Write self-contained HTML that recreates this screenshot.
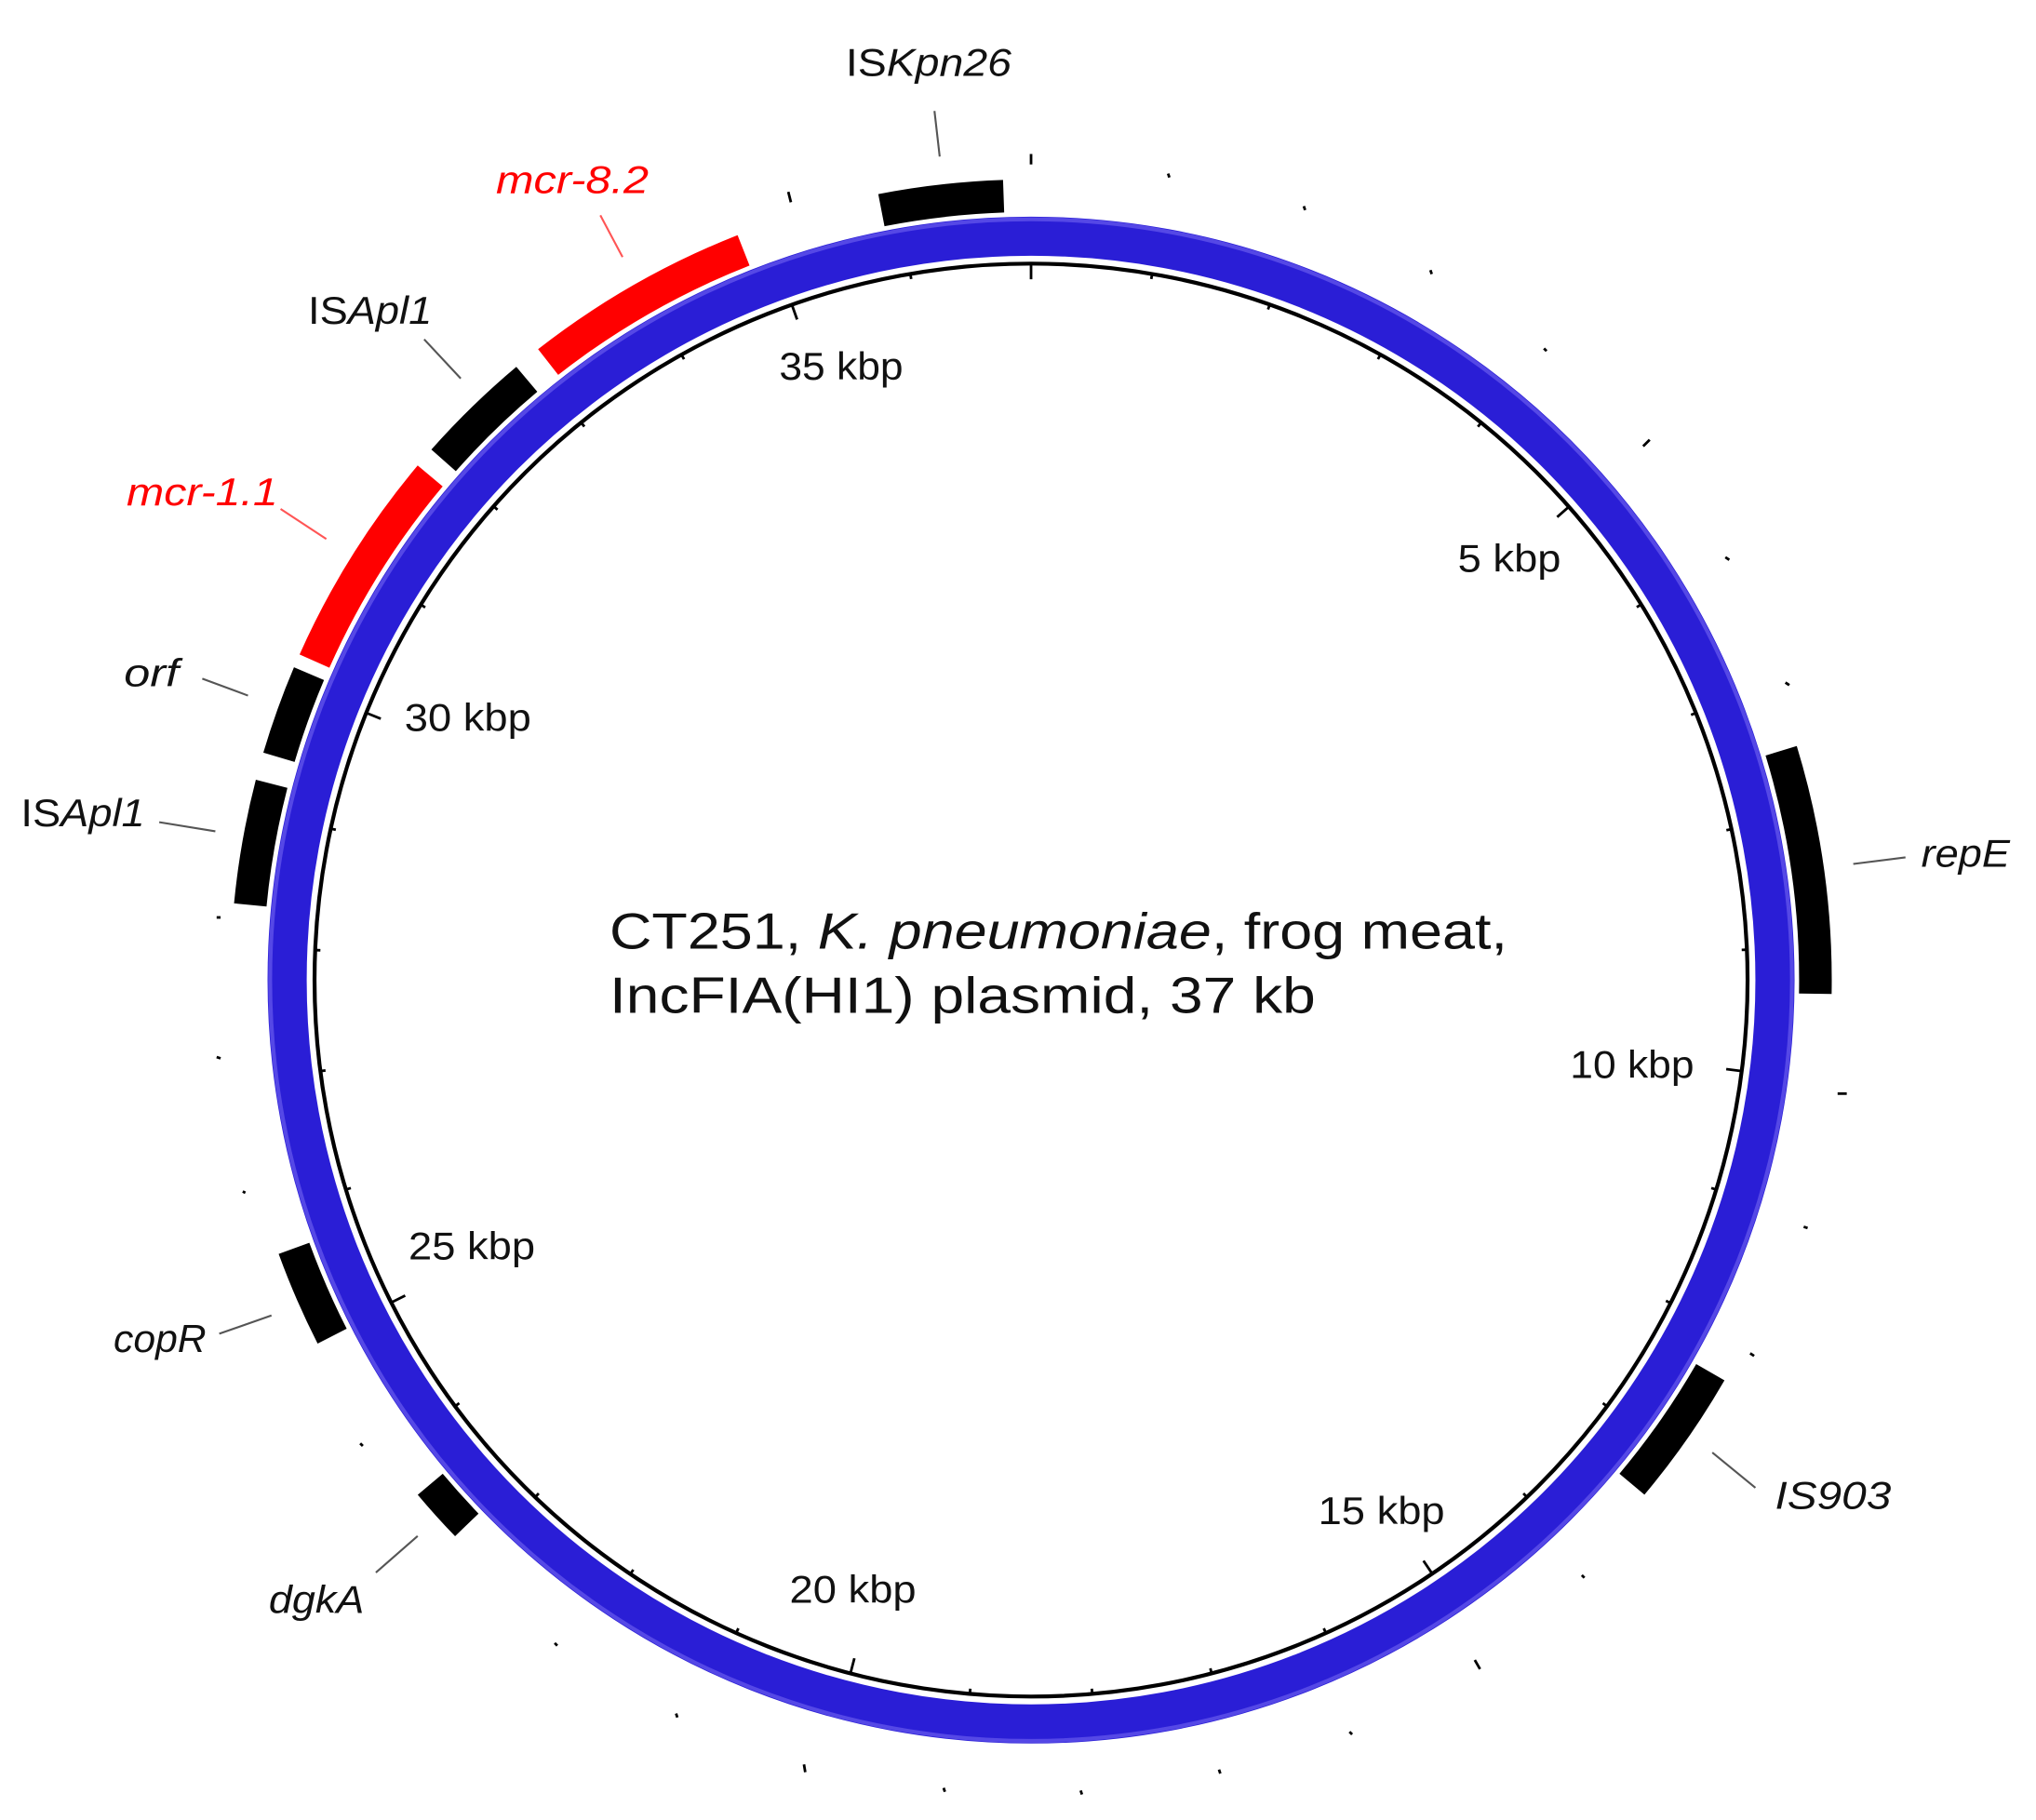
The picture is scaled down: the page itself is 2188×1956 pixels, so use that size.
<!DOCTYPE html>
<html><head><meta charset="utf-8"><style>
html,body{margin:0;padding:0;background:#fff;width:2188px;height:1956px;overflow:hidden;}
svg{display:block;}
text{font-family:"Liberation Sans","DejaVu Sans",sans-serif;}
</style></head><body>
<svg width="2188" height="1956" viewBox="0 0 1560 1394.6" preserveAspectRatio="none" xmlns="http://www.w3.org/2000/svg">
<circle cx="790" cy="751" r="570" fill="none" stroke="#2a1ed6" stroke-width="30"/>
<circle cx="790" cy="751" r="583" fill="none" stroke="#5548e6" stroke-width="3"/>
<circle cx="790" cy="751" r="549" fill="none" stroke="#000" stroke-width="3"/>

<g fill="none" stroke-width="25">
<circle cx="790" cy="751" r="601" pathLength="360" stroke="#000" stroke-dasharray="9 360" transform="rotate(-101 790 751)"/>
<circle cx="790" cy="751" r="601" pathLength="360" stroke="#f00" stroke-dasharray="16.5 360" transform="rotate(-128 790 751)"/>
<circle cx="790" cy="751" r="601" pathLength="360" stroke="#000" stroke-dasharray="8.5 360" transform="rotate(-138.5 790 751)"/>
<circle cx="790" cy="751" r="601" pathLength="360" stroke="#f00" stroke-dasharray="16 360" transform="rotate(-156 790 751)"/>
<circle cx="790" cy="751" r="601" pathLength="360" stroke="#000" stroke-dasharray="6.5 360" transform="rotate(-163.5 790 751)"/>
<circle cx="790" cy="751" r="601" pathLength="360" stroke="#000" stroke-dasharray="9 360" transform="rotate(-174.5 790 751)"/>
<circle cx="790" cy="751" r="601" pathLength="360" stroke="#000" stroke-dasharray="7 360" transform="rotate(-207 790 751)"/>
<circle cx="790" cy="751" r="601" pathLength="360" stroke="#000" stroke-dasharray="4 360" transform="rotate(-224 790 751)"/>
<circle cx="790" cy="751" r="601" pathLength="360" stroke="#000" stroke-dasharray="10 360" transform="rotate(30 790 751)"/>
<circle cx="790" cy="751" r="601" pathLength="360" stroke="#000" stroke-dasharray="18 360" transform="rotate(-17 790 751)"/>
</g>

<g stroke="#000" stroke-width="2">
<line x1="790" y1="202" x2="790" y2="214"/>
<line x1="790" y1="202" x2="790" y2="214" transform="rotate(48.65 790 751)"/>
<line x1="790" y1="202" x2="790" y2="214" transform="rotate(97.3 790 751)"/>
<line x1="790" y1="202" x2="790" y2="214" transform="rotate(145.95 790 751)"/>
<line x1="790" y1="202" x2="790" y2="214" transform="rotate(194.6 790 751)"/>
<line x1="790" y1="202" x2="790" y2="214" transform="rotate(243.25 790 751)"/>
<line x1="790" y1="202" x2="790" y2="214" transform="rotate(291.9 790 751)"/>
<line x1="790" y1="202" x2="790" y2="214" transform="rotate(340.5 790 751)"/>
</g>
<g stroke="#000" stroke-width="2">
<line x1="790" y1="202" x2="790" y2="206" transform="rotate(9.73 790 751)"/>
<line x1="790" y1="202" x2="790" y2="206" transform="rotate(19.46 790 751)"/>
<line x1="790" y1="202" x2="790" y2="206" transform="rotate(29.19 790 751)"/>
<line x1="790" y1="202" x2="790" y2="206" transform="rotate(38.92 790 751)"/>
<line x1="790" y1="202" x2="790" y2="206" transform="rotate(58.38 790 751)"/>
<line x1="790" y1="202" x2="790" y2="206" transform="rotate(68.11 790 751)"/>
<line x1="790" y1="202" x2="790" y2="206" transform="rotate(77.84 790 751)"/>
<line x1="790" y1="202" x2="790" y2="206" transform="rotate(87.57 790 751)"/>
<line x1="790" y1="202" x2="790" y2="206" transform="rotate(107 790 751)"/>
<line x1="790" y1="202" x2="790" y2="206" transform="rotate(116.8 790 751)"/>
<line x1="790" y1="202" x2="790" y2="206" transform="rotate(126.5 790 751)"/>
<line x1="790" y1="202" x2="790" y2="206" transform="rotate(136.2 790 751)"/>
<line x1="790" y1="202" x2="790" y2="206" transform="rotate(155.7 790 751)"/>
<line x1="790" y1="202" x2="790" y2="206" transform="rotate(165.4 790 751)"/>
<line x1="790" y1="202" x2="790" y2="206" transform="rotate(175.1 790 751)"/>
<line x1="790" y1="202" x2="790" y2="206" transform="rotate(184.9 790 751)"/>
<line x1="790" y1="202" x2="790" y2="206" transform="rotate(204.3 790 751)"/>
<line x1="790" y1="202" x2="790" y2="206" transform="rotate(214 790 751)"/>
<line x1="790" y1="202" x2="790" y2="206" transform="rotate(223.8 790 751)"/>
<line x1="790" y1="202" x2="790" y2="206" transform="rotate(233.5 790 751)"/>
<line x1="790" y1="202" x2="790" y2="206" transform="rotate(253 790 751)"/>
<line x1="790" y1="202" x2="790" y2="206" transform="rotate(262.7 790 751)"/>
<line x1="790" y1="202" x2="790" y2="206" transform="rotate(272.4 790 751)"/>
<line x1="790" y1="202" x2="790" y2="206" transform="rotate(282.2 790 751)"/>
<line x1="790" y1="202" x2="790" y2="206" transform="rotate(301.6 790 751)"/>
<line x1="790" y1="202" x2="790" y2="206" transform="rotate(311.4 790 751)"/>
<line x1="790" y1="202" x2="790" y2="206" transform="rotate(321.1 790 751)"/>
<line x1="790" y1="202" x2="790" y2="206" transform="rotate(330.8 790 751)"/>
<line x1="790" y1="202" x2="790" y2="206" transform="rotate(350.3 790 751)"/>
</g>

<g stroke="#000" stroke-width="2">
<line x1="790" y1="118" x2="790" y2="126"/>
<line x1="604" y1="147" x2="606" y2="155"/>
<line x1="1259" y1="342" x2="1264" y2="337"/>
<line x1="1408" y1="838" x2="1415" y2="838"/>
<line x1="1130" y1="1272" x2="1134" y2="1279"/>
<line x1="616" y1="1352" x2="617" y2="1358"/>
<line x1="895" y1="133" x2="896" y2="136"/>
<line x1="999" y1="158" x2="1000" y2="161"/>
<line x1="1096" y1="207" x2="1097" y2="210"/>
<line x1="1183" y1="267" x2="1185" y2="269"/>
<line x1="1322" y1="427" x2="1325" y2="429"/>
<line x1="1368" y1="523" x2="1371" y2="525"/>
<line x1="1382" y1="940" x2="1385" y2="941"/>
<line x1="1341" y1="1037" x2="1344" y2="1039"/>
<line x1="1212" y1="1207" x2="1214" y2="1209"/>
<line x1="1034" y1="1327" x2="1036" y2="1329"/>
<line x1="934" y1="1356" x2="935" y2="1359"/>
<line x1="828" y1="1372" x2="829" y2="1375"/>
<line x1="723" y1="1370" x2="724" y2="1373"/>
<line x1="518" y1="1313" x2="519" y2="1316"/>
<line x1="425" y1="1259" x2="427" y2="1261"/>
<line x1="276" y1="1106" x2="278" y2="1108"/>
<line x1="186" y1="913" x2="188" y2="914"/>
<line x1="166" y1="810" x2="169" y2="811"/>
<line x1="166" y1="703" x2="169" y2="703"/>
</g>

<g stroke="#555" stroke-width="1.5" fill="none">
<line x1="716" y1="85" x2="720" y2="120"/>
<line x1="353" y1="290" x2="325" y2="260"/>
<line x1="190" y1="533" x2="155" y2="520"/>
<line x1="165" y1="637" x2="122" y2="630"/>
<line x1="208" y1="1008" x2="168" y2="1022"/>
<line x1="320" y1="1177" x2="288" y2="1205"/>
<line x1="1345" y1="1140" x2="1312" y2="1113"/>
<line x1="1420" y1="662" x2="1460" y2="657"/>
</g>
<g stroke="#f55" stroke-width="1.5">
<line x1="477" y1="197" x2="460" y2="165"/>
<line x1="250" y1="413" x2="215" y2="390"/>
</g>

<g font-size="30" fill="#111">
<text x="648" y="58" textLength="127" lengthAdjust="spacingAndGlyphs">IS<tspan font-style="italic">Kpn26</tspan></text>
<text x="236" y="248" textLength="95" lengthAdjust="spacingAndGlyphs">IS<tspan font-style="italic">Apl1</tspan></text>
<text x="95" y="526" font-style="italic" textLength="42" lengthAdjust="spacingAndGlyphs">orf</text>
<text x="16" y="633" textLength="95" lengthAdjust="spacingAndGlyphs">IS<tspan font-style="italic">Apl1</tspan></text>
<text x="87" y="1036" font-style="italic" textLength="71" lengthAdjust="spacingAndGlyphs">copR</text>
<text x="206" y="1236" font-style="italic" textLength="73" lengthAdjust="spacingAndGlyphs">dgkA</text>
<text x="1360" y="1156" font-style="italic" textLength="89" lengthAdjust="spacingAndGlyphs">IS903</text>
<text x="1472" y="664" font-style="italic" textLength="68" lengthAdjust="spacingAndGlyphs">repE</text>
</g>
<g font-size="30" fill="#f00" font-style="italic">
<text x="380" y="148" textLength="117" lengthAdjust="spacingAndGlyphs">mcr-8.2</text>
<text x="97" y="387" textLength="116" lengthAdjust="spacingAndGlyphs">mcr-1.1</text>
</g>

<g font-size="30" fill="#111">
<text x="597" y="291" textLength="95" lengthAdjust="spacingAndGlyphs">35 kbp</text>
<text x="1117" y="438" textLength="79" lengthAdjust="spacingAndGlyphs">5 kbp</text>
<text x="310" y="560" textLength="97" lengthAdjust="spacingAndGlyphs">30 kbp</text>
<text x="1203" y="826" textLength="95" lengthAdjust="spacingAndGlyphs">10 kbp</text>
<text x="313" y="965" textLength="97" lengthAdjust="spacingAndGlyphs">25 kbp</text>
<text x="1010" y="1168" textLength="97" lengthAdjust="spacingAndGlyphs">15 kbp</text>
<text x="605" y="1228" textLength="97" lengthAdjust="spacingAndGlyphs">20 kbp</text>
</g>

<g font-size="39" fill="#111">
<text x="467" y="727" textLength="688" lengthAdjust="spacingAndGlyphs">CT251, <tspan font-style="italic">K. pneumoniae</tspan>, frog meat,</text>
<text x="467" y="776" textLength="541" lengthAdjust="spacingAndGlyphs">IncFIA(HI1) plasmid, 37 kb</text>
</g>
</svg>
</body></html>
